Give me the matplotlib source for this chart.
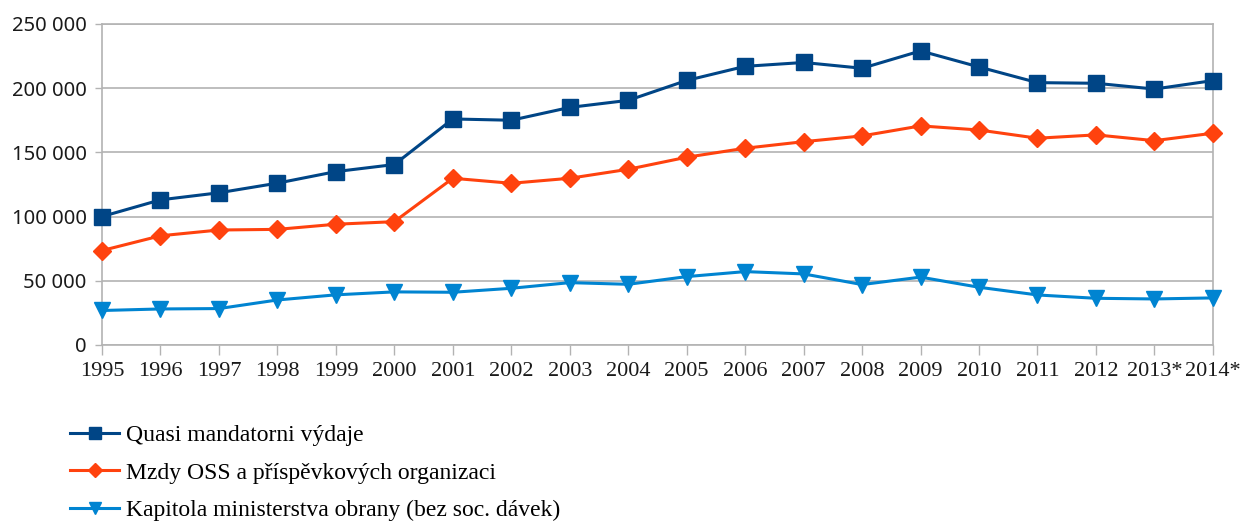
import matplotlib
matplotlib.use("Agg")
import matplotlib.pyplot as plt
from matplotlib.ticker import FuncFormatter

years = ["1995", "1996", "1997", "1998", "1999", "2000", "2001", "2002", "2003", "2004",
         "2005", "2006", "2007", "2008", "2009", "2010", "2011", "2012", "2013*", "2014*"]
quasi = [100000, 113000, 118500, 126000, 135000, 140500, 176000, 175000, 185000, 190500,
         206000, 217000, 220000, 215500, 229000, 216500, 204300, 203800, 199300, 205900]
mzdy = [73500, 85000, 89500, 90000, 94000, 96000, 129800, 125900, 129800, 136800,
        146200, 153200, 158300, 162800, 170600, 167400, 161000, 163600, 159100, 164900]
kapitola = [26800, 28000, 28300, 35000, 39000, 41300, 41000, 44100, 48500, 47200,
            53200, 57100, 55300, 47000, 52800, 44900, 38900, 36300, 35800, 36600]
labels = ["Quasi mandatorni výdaje",
          "Mzdy OSS a příspěvkových organizaci",
          "Kapitola ministerstva obrany (bez soc. dávek)"]

plt.rcParams['font.family'] = ['Liberation Serif', 'DejaVu Serif']

fig = plt.figure(figsize=(12.44, 5.21), dpi=100)
ax = fig.add_axes([0.082, 0.338, 0.893, 0.616])

x = list(range(len(years)))
ax.plot(x, quasi, color="#004586", lw=2.2, marker="s", ms=11.5, label=labels[0],
        zorder=3, clip_on=False)
ax.plot(x, mzdy, color="#ff420e", lw=2.2, marker="D", ms=9.5, label=labels[1],
        zorder=3, clip_on=False)
ax.plot(x, kapitola, color="#0084d1", lw=2.2, marker="v", ms=12, label=labels[2],
        zorder=3, clip_on=False)

ax.set_xlim(0, len(years) - 1)
ax.set_ylim(0, 250000)
ax.set_yticks(range(0, 250001, 50000))
ax.yaxis.set_major_formatter(FuncFormatter(lambda v, p: f"{int(v):,}".replace(",", " ")))
ax.set_xticks(x)
ax.set_xticklabels(years)
ax.grid(axis="y", color="#b3b3b3", lw=1.2)
ax.set_axisbelow(True)
for s in ax.spines.values():
    s.set_color("#b3b3b3")
    s.set_linewidth(1.2)
ax.tick_params(axis="x", colors="#b3b3b3", labelcolor="#1a1a1a", labelsize=16,
               length=7, width=1.0, pad=5.5)
ax.tick_params(axis="y", colors="#b3b3b3", labelcolor="#1a1a1a", labelsize=14.5,
               length=5, width=1.0, pad=6)
for t in ax.get_yticklabels():
    t.set_family(["Noto Sans", "DejaVu Sans"])

fig.legend(loc="upper left", bbox_to_anchor=(0.049, 0.2035), frameon=False,
           fontsize=17, handlelength=2.05, handletextpad=0.3, labelspacing=0.68,
           markerscale=0.7, borderaxespad=0)

fig.savefig("out.png", dpi=100)
